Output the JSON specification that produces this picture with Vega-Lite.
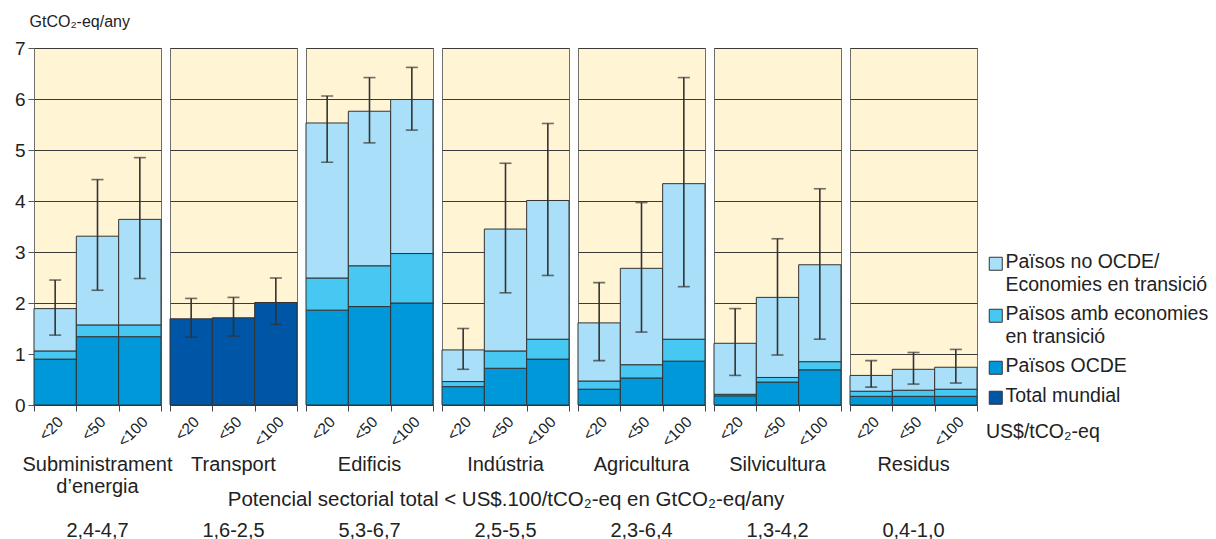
{
  "$schema": "https://vega.github.io/schema/vega-lite/v6.json",
  "padding": {"top": 13, "left": 14, "right": 0, "bottom": 0},
  "background": "white",
  "data": {
    "values": [
      {"sector": "Subministrament d’energia", "cost": "<20", "group": "Països OCDE", "ord": 1, "v": 0.90},
      {"sector": "Subministrament d’energia", "cost": "<20", "group": "Països amb economies en transició", "ord": 2, "v": 0.16},
      {"sector": "Subministrament d’energia", "cost": "<20", "group": "Països no OCDE/Economies en transició", "ord": 3, "v": 0.83},
      {"sector": "Subministrament d’energia", "cost": "<50", "group": "Països OCDE", "ord": 1, "v": 1.34},
      {"sector": "Subministrament d’energia", "cost": "<50", "group": "Països amb economies en transició", "ord": 2, "v": 0.23},
      {"sector": "Subministrament d’energia", "cost": "<50", "group": "Països no OCDE/Economies en transició", "ord": 3, "v": 1.74},
      {"sector": "Subministrament d’energia", "cost": "<100", "group": "Països OCDE", "ord": 1, "v": 1.34},
      {"sector": "Subministrament d’energia", "cost": "<100", "group": "Països amb economies en transició", "ord": 2, "v": 0.23},
      {"sector": "Subministrament d’energia", "cost": "<100", "group": "Països no OCDE/Economies en transició", "ord": 3, "v": 2.07},

      {"sector": "Transport", "cost": "<20", "group": "Total mundial", "ord": 1, "v": 1.69},
      {"sector": "Transport", "cost": "<50", "group": "Total mundial", "ord": 1, "v": 1.71},
      {"sector": "Transport", "cost": "<100", "group": "Total mundial", "ord": 1, "v": 2.01},

      {"sector": "Edificis", "cost": "<20", "group": "Països OCDE", "ord": 1, "v": 1.86},
      {"sector": "Edificis", "cost": "<20", "group": "Països amb economies en transició", "ord": 2, "v": 0.63},
      {"sector": "Edificis", "cost": "<20", "group": "Països no OCDE/Economies en transició", "ord": 3, "v": 3.04},
      {"sector": "Edificis", "cost": "<50", "group": "Països OCDE", "ord": 1, "v": 1.93},
      {"sector": "Edificis", "cost": "<50", "group": "Països amb economies en transició", "ord": 2, "v": 0.80},
      {"sector": "Edificis", "cost": "<50", "group": "Països no OCDE/Economies en transició", "ord": 3, "v": 3.03},
      {"sector": "Edificis", "cost": "<100", "group": "Països OCDE", "ord": 1, "v": 2.00},
      {"sector": "Edificis", "cost": "<100", "group": "Països amb economies en transició", "ord": 2, "v": 0.97},
      {"sector": "Edificis", "cost": "<100", "group": "Països no OCDE/Economies en transició", "ord": 3, "v": 3.02},

      {"sector": "Indústria", "cost": "<20", "group": "Països OCDE", "ord": 1, "v": 0.36},
      {"sector": "Indústria", "cost": "<20", "group": "Països amb economies en transició", "ord": 2, "v": 0.10},
      {"sector": "Indústria", "cost": "<20", "group": "Països no OCDE/Economies en transició", "ord": 3, "v": 0.62},
      {"sector": "Indústria", "cost": "<50", "group": "Països OCDE", "ord": 1, "v": 0.72},
      {"sector": "Indústria", "cost": "<50", "group": "Països amb economies en transició", "ord": 2, "v": 0.34},
      {"sector": "Indústria", "cost": "<50", "group": "Països no OCDE/Economies en transició", "ord": 3, "v": 2.39},
      {"sector": "Indústria", "cost": "<100", "group": "Països OCDE", "ord": 1, "v": 0.90},
      {"sector": "Indústria", "cost": "<100", "group": "Països amb economies en transició", "ord": 2, "v": 0.39},
      {"sector": "Indústria", "cost": "<100", "group": "Països no OCDE/Economies en transició", "ord": 3, "v": 2.72},

      {"sector": "Agricultura", "cost": "<20", "group": "Països OCDE", "ord": 1, "v": 0.31},
      {"sector": "Agricultura", "cost": "<20", "group": "Països amb economies en transició", "ord": 2, "v": 0.16},
      {"sector": "Agricultura", "cost": "<20", "group": "Països no OCDE/Economies en transició", "ord": 3, "v": 1.14},
      {"sector": "Agricultura", "cost": "<50", "group": "Països OCDE", "ord": 1, "v": 0.53},
      {"sector": "Agricultura", "cost": "<50", "group": "Països amb economies en transició", "ord": 2, "v": 0.26},
      {"sector": "Agricultura", "cost": "<50", "group": "Països no OCDE/Economies en transició", "ord": 3, "v": 1.89},
      {"sector": "Agricultura", "cost": "<100", "group": "Països OCDE", "ord": 1, "v": 0.86},
      {"sector": "Agricultura", "cost": "<100", "group": "Països amb economies en transició", "ord": 2, "v": 0.43},
      {"sector": "Agricultura", "cost": "<100", "group": "Països no OCDE/Economies en transició", "ord": 3, "v": 3.05},

      {"sector": "Silvicultura", "cost": "<20", "group": "Països OCDE", "ord": 1, "v": 0.18},
      {"sector": "Silvicultura", "cost": "<20", "group": "Països amb economies en transició", "ord": 2, "v": 0.03},
      {"sector": "Silvicultura", "cost": "<20", "group": "Països no OCDE/Economies en transició", "ord": 3, "v": 1.00},
      {"sector": "Silvicultura", "cost": "<50", "group": "Països OCDE", "ord": 1, "v": 0.45},
      {"sector": "Silvicultura", "cost": "<50", "group": "Països amb economies en transició", "ord": 2, "v": 0.09},
      {"sector": "Silvicultura", "cost": "<50", "group": "Països no OCDE/Economies en transició", "ord": 3, "v": 1.57},
      {"sector": "Silvicultura", "cost": "<100", "group": "Països OCDE", "ord": 1, "v": 0.69},
      {"sector": "Silvicultura", "cost": "<100", "group": "Països amb economies en transició", "ord": 2, "v": 0.16},
      {"sector": "Silvicultura", "cost": "<100", "group": "Països no OCDE/Economies en transició", "ord": 3, "v": 1.90},

      {"sector": "Residus", "cost": "<20", "group": "Països OCDE", "ord": 1, "v": 0.17},
      {"sector": "Residus", "cost": "<20", "group": "Països amb economies en transició", "ord": 2, "v": 0.10},
      {"sector": "Residus", "cost": "<20", "group": "Països no OCDE/Economies en transició", "ord": 3, "v": 0.31},
      {"sector": "Residus", "cost": "<50", "group": "Països OCDE", "ord": 1, "v": 0.17},
      {"sector": "Residus", "cost": "<50", "group": "Països amb economies en transició", "ord": 2, "v": 0.12},
      {"sector": "Residus", "cost": "<50", "group": "Països no OCDE/Economies en transició", "ord": 3, "v": 0.41},
      {"sector": "Residus", "cost": "<100", "group": "Països OCDE", "ord": 1, "v": 0.17},
      {"sector": "Residus", "cost": "<100", "group": "Països amb economies en transició", "ord": 2, "v": 0.14},
      {"sector": "Residus", "cost": "<100", "group": "Països no OCDE/Economies en transició", "ord": 3, "v": 0.43},

      {"sector": "Subministrament d’energia", "cost": "<20", "lo": 1.37, "hi": 2.45},
      {"sector": "Subministrament d’energia", "cost": "<50", "lo": 2.25, "hi": 4.42},
      {"sector": "Subministrament d’energia", "cost": "<100", "lo": 2.48, "hi": 4.85},
      {"sector": "Transport", "cost": "<20", "lo": 1.33, "hi": 2.09},
      {"sector": "Transport", "cost": "<50", "lo": 1.35, "hi": 2.11},
      {"sector": "Transport", "cost": "<100", "lo": 1.58, "hi": 2.49},
      {"sector": "Edificis", "cost": "<20", "lo": 4.76, "hi": 6.06},
      {"sector": "Edificis", "cost": "<50", "lo": 5.14, "hi": 6.42},
      {"sector": "Edificis", "cost": "<100", "lo": 5.39, "hi": 6.62},
      {"sector": "Indústria", "cost": "<20", "lo": 0.70, "hi": 1.50},
      {"sector": "Indústria", "cost": "<50", "lo": 2.20, "hi": 4.74},
      {"sector": "Indústria", "cost": "<100", "lo": 2.54, "hi": 5.52},
      {"sector": "Agricultura", "cost": "<20", "lo": 0.87, "hi": 2.40},
      {"sector": "Agricultura", "cost": "<50", "lo": 1.43, "hi": 3.97},
      {"sector": "Agricultura", "cost": "<100", "lo": 2.32, "hi": 6.42},
      {"sector": "Silvicultura", "cost": "<20", "lo": 0.58, "hi": 1.89},
      {"sector": "Silvicultura", "cost": "<50", "lo": 0.98, "hi": 3.26},
      {"sector": "Silvicultura", "cost": "<100", "lo": 1.29, "hi": 4.24},
      {"sector": "Residus", "cost": "<20", "lo": 0.35, "hi": 0.87},
      {"sector": "Residus", "cost": "<50", "lo": 0.41, "hi": 1.03},
      {"sector": "Residus", "cost": "<100", "lo": 0.43, "hi": 1.09}
    ]
  },
  "facet": {
    "column": {
      "field": "sector",
      "type": "nominal",
      "sort": ["Subministrament d’energia", "Transport", "Edificis", "Indústria", "Agricultura", "Silvicultura", "Residus"],
      "header": {
        "labelOrient": "bottom",
        "labelFontSize": 20,
        "labelLineHeight": 22,
        "labelColor": "#222",
        "labelPadding": 5,
        "labelExpr": "[datum.value == 'Subministrament d’energia' ? 'Subministrament' : datum.value, datum.value == 'Subministrament d’energia' ? 'd’energia' : '\u200b', '\u200b', {'Subministrament d’energia': '2,4-4,7', 'Transport': '1,6-2,5', 'Edificis': '5,3-6,7', 'Indústria': '2,5-5,5', 'Agricultura': '2,3-6,4', 'Silvicultura': '1,3-4,2', 'Residus': '0,4-1,0'}[datum.value]]",
        "title": "Potencial sectorial total < US$.100/tCO₂-eq en GtCO₂-eq/any",
        "titleOrient": "bottom",
        "titleFontSize": 20.5,
        "titleFontWeight": "normal",
        "titleColor": "#222",
        "titlePadding": -61
      }
    }
  },
  "spacing": 9,
  "bounds": "flush",
  "spec": {
    "width": 127,
    "height": 357,
    "encoding": {
      "x": {
        "field": "cost",
        "type": "nominal",
        "sort": ["<20", "<50", "<100"],
        "scale": {"paddingInner": 0, "paddingOuter": 0},
        "axis": {
          "title": null,
          "labelAngle": -45,
          "labelFontSize": 15.5,
          "labelColor": "#222",
          "tickBand": "extent",
          "tickSize": 6,
          "tickColor": "#444",
          "domainColor": "#333",
          "labelPadding": 3
        }
      }
    },
    "layer": [
      {
        "transform": [{"filter": "datum.group != null"}],
        "mark": {"type": "bar", "stroke": "#333", "strokeWidth": 1},
        "encoding": {
          "y": {
            "field": "v",
            "type": "quantitative",
            "stack": "zero",
            "scale": {"domain": [0, 7], "nice": false},
            "axis": {
              "values": [0, 1, 2, 3, 4, 5, 6, 7],
              "grid": true,
              "gridColor": "#3a3a3a",
              "gridWidth": 1,
              "domain": false,
              "tickSize": 6,
              "tickColor": "#555",
              "labelFontSize": 19,
              "labelColor": "#222",
              "labelPadding": 3,
              "title": "GtCO₂-eq/any",
              "titleAngle": 0,
              "titleAlign": "left",
              "titleBaseline": "alphabetic",
              "titleX": -5,
              "titleY": -22,
              "titleFontSize": 16,
              "titleFontWeight": "normal",
              "titleColor": "#222"
            }
          },
          "color": {
            "field": "group",
            "type": "nominal",
            "scale": {
              "domain": ["Països no OCDE/Economies en transició", "Països amb economies en transició", "Països OCDE", "Total mundial"],
              "range": ["#A9DFF8", "#46C8F3", "#0098D8", "#0056A6"]
            },
            "legend": {
              "orient": "none",
              "legendX": 952,
              "legendY": 206,
              "title": "US$/tCO₂-eq",
              "titleOrient": "bottom",
              "titleAnchor": "start",
              "titleFontSize": 19.5,
              "titleFontWeight": "normal",
              "titleColor": "#222",
              "titlePadding": 17,
              "labelFontSize": 19.5,
              "labelColor": "#222",
              "labelBaseline": "top",
              "labelLimit": 300,
              "labelOffset": 0,
              "labelExpr": "datum.value == 'Països no OCDE/Economies en transició' ? ['Països no OCDE/', 'Economies en transició'] : datum.value == 'Països amb economies en transició' ? ['Països amb economies', 'en transició'] : datum.value",
              "symbolType": "square",
              "symbolSize": 169,
              "symbolStrokeColor": "#333",
              "symbolStrokeWidth": 1,
              "symbolOpacity": 1,
              "rowPadding": 8,
              "encode": {
                "labels": {"update": {"dy": {"value": -11}, "lineHeight": {"value": 23.5}}}
              }
            }
          },
          "order": {"field": "ord", "type": "quantitative"}
        }
      },
      {
        "transform": [{"filter": "datum.lo != null"}],
        "mark": {"type": "rule", "color": "#333", "strokeWidth": 1.6},
        "encoding": {
          "y": {"field": "lo", "type": "quantitative"},
          "y2": {"field": "hi"}
        }
      },
      {
        "transform": [{"filter": "datum.lo != null"}],
        "mark": {"type": "tick", "color": "#333", "thickness": 1.6, "size": 12},
        "encoding": {"y": {"field": "lo", "type": "quantitative"}}
      },
      {
        "transform": [{"filter": "datum.lo != null"}],
        "mark": {"type": "tick", "color": "#333", "thickness": 1.6, "size": 12},
        "encoding": {"y": {"field": "hi", "type": "quantitative"}}
      }
    ]
  },
  "config": {
    "font": "Liberation Sans",
    "view": {"fill": "#FFF4D4", "stroke": "#6f6f6f", "strokeWidth": 1}
  }
}
